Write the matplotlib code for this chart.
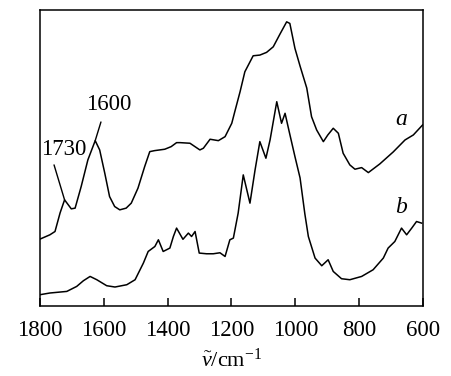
import matplotlib
matplotlib.use("Agg")
import matplotlib.pyplot as plt

# 红外光谱数据
wn_a = [1800, 1769, 1753, 1737, 1723, 1702, 1690, 1671, 1650, 1627,
        1613, 1597, 1582, 1566, 1550, 1530, 1514, 1493, 1472, 1456,
        1441, 1409, 1389, 1372, 1361, 1330, 1299, 1288, 1267, 1241,
        1220, 1199, 1189, 1173, 1158, 1132, 1111, 1090, 1069, 1048,
        1027, 1017, 1001, 985, 964, 949, 933, 912, 898, 881,
        865, 850, 829, 813, 792, 771, 735, 693, 656, 630, 601]
abs_a = [66.7, 71, 74.3, 93, 106, 97, 97.7, 119.3, 146, 165.3,
         156, 132.7, 109.3, 99.3, 96, 97.7, 102.7, 117.7, 139.3, 154.3,
         155.3, 156.7, 159.3, 163.3, 163.3, 162.7, 156, 157.7, 166.7, 165.3,
         169.3, 182.7, 195, 214.3, 234.3, 250.3, 251, 253.7, 259.3, 272,
         284.3, 282.7, 257.7, 240, 218, 189.3, 176, 164.3, 171, 177.7,
         172.7, 152.7, 141, 136.7, 138.3, 133.3, 142, 154, 166, 171, 181]

wn_b = [1800, 1769, 1716, 1685, 1664, 1643, 1622, 1591, 1565, 1528,
        1502, 1476, 1461, 1440, 1429, 1414, 1393, 1382, 1372, 1352,
        1335, 1325, 1314, 1301, 1278, 1257, 1236, 1220, 1205, 1194,
        1179, 1163, 1142, 1126, 1111, 1092, 1079, 1058, 1043, 1032,
        1019, 1001, 985, 970, 959, 938, 917, 897, 881, 855,
        829, 792, 756, 724, 709, 688, 667, 651, 635, 620, 604]
abs_b = [11, 12.7, 14.3, 19.3, 25, 29.3, 26, 20, 18.7, 21,
         26, 42.7, 54.3, 59.3, 66, 54.3, 57.7, 69.3, 77.7, 66.5,
         72.7, 69.3, 74.3, 52.7, 52, 52, 53, 49.3, 66, 67.7,
         92.7, 131, 102.7, 136, 164.3, 147.7, 166, 204.3, 182.7, 192.7,
         174.3, 149.3, 128, 92, 69.3, 47.7, 40, 46, 34.3, 27,
         26, 29.3, 36, 47.7, 57.7, 64.3, 77.7, 71, 77.7, 84.3, 82.7]

xticks = [1800, 1600, 1400, 1200, 1000, 800, 600]

plt.rcParams['font.family'] = ['Liberation Serif', 'DejaVu Serif']
plt.rcParams['mathtext.fontset'] = 'custom'
plt.rcParams['mathtext.rm'] = 'Liberation Serif'
plt.rcParams['mathtext.it'] = 'Liberation Serif:italic'

fig = plt.figure(figsize=(4.51, 3.76), dpi=100)
ax = fig.add_axes([0.0887, 0.187, 0.849, 0.786])

ax.plot(wn_a, abs_a, color='black', lw=1.1)
ax.plot(wn_b, abs_b, color='black', lw=1.1)

ax.set_xlim(1800, 600)
ax.set_ylim(0, 296)
ax.set_xticks(xticks)
ax.set_yticks([])
ax.tick_params(axis='x', direction='in', length=6, width=1.1,
               labelsize=16.5, pad=10)
for s in ax.spines.values():
    s.set_linewidth(1.1)

ax.set_xlabel(r'$\tilde{\nu}$/cm$^{-1}$', fontsize=16, labelpad=6)

# 峰位标注
ax.annotate('', xy=(wn_a[9], abs_a[9]), xytext=(1609, 184),
            arrowprops=dict(arrowstyle='-', lw=1.0, shrinkA=0, shrinkB=0))
ax.text(1585, 202, '1600', fontsize=16.5, ha='center', va='center')
ax.annotate('', xy=(wn_a[4], abs_a[4]), xytext=(1756, 141),
            arrowprops=dict(arrowstyle='-', lw=1.0, shrinkA=0, shrinkB=0))
ax.text(1725, 156, '1730', fontsize=16.5, ha='center', va='center')

ax.text(667, 186, 'a', fontsize=17, style='italic', ha='center', va='center')
ax.text(667, 98, 'b', fontsize=17, style='italic', ha='center', va='center')

fig.savefig('out.png', dpi=100)
